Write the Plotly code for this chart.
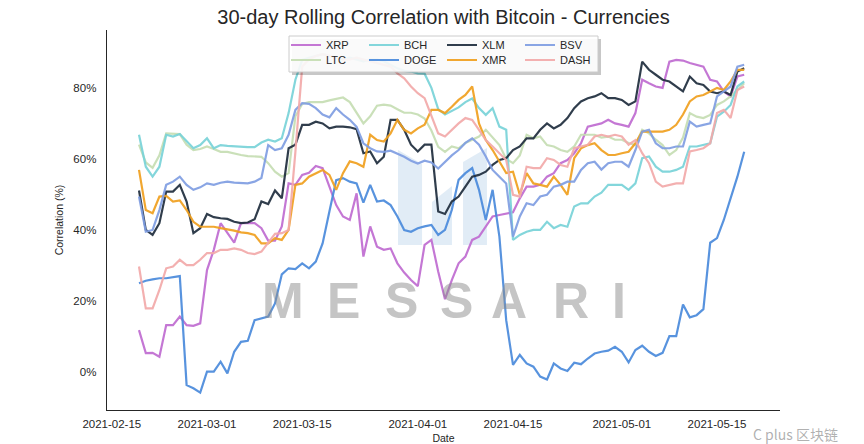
import pandas as pd
import plotly.graph_objects as go

dates = pd.date_range("2021-02-19", periods=90, freq="D")

XRP = [11.8, 5.3, 5.4, 4.3, 13.2, 13.2, 15.6, 13.2, 13.0, 13.7,
       28.7, 34.4, 41.9, 39.1, 36.4, 41.9, 41.9, 41.9, 40.5, 37.0,
       37.0, 41.0, 53.1, 52.7, 55.5, 56.1, 58.0, 57.4, 52.2, 47.0,
       43.8, 42.8, 50.3, 32.5, 41.0, 35.3, 34.4, 34.8, 30.6, 28.0,
       25.9, 24.2, 35.8, 37.2, 28.3, 20.5, 25.9, 30.6, 32.5, 37.2,
       38.1, 40.9, 43.8, 44.2, 44.5, 45.0, 48.9, 52.2, 52.2, 52.7,
       55.0, 56.0, 58.8, 59.7, 61.6, 64.4, 69.1, 69.6, 70.0, 71.0,
       70.0, 69.6, 69.1, 72.9, 82.3, 81.3, 80.4, 80.0, 87.4, 87.9,
       87.7, 87.0, 86.5, 86.0, 82.3, 81.8, 79.0, 77.6, 83.2, 83.7]

LTC = [64.0, 59.0, 57.5, 61.0, 67.2, 67.2, 67.0, 64.0, 62.5, 62.8,
       63.5, 62.8, 62.0, 62.0, 61.5, 61.1, 60.8, 60.6, 60.6, 58.8,
       56.4, 55.0, 56.0, 72.0, 75.5, 76.0, 76.0, 76.0, 76.5, 76.8,
       77.3, 76.0, 73.0, 70.0, 72.0, 75.0, 75.3, 75.0, 74.0, 73.0,
       73.0, 72.5, 71.4, 68.0, 63.4, 62.0, 63.5, 63.0, 64.5, 65.3,
       66.3, 68.2, 66.0, 63.9, 60.0, 58.8, 61.0, 66.8, 65.8, 66.3,
       63.9, 63.5, 62.5, 62.0, 63.5, 66.8, 66.8, 66.8, 66.0, 66.3,
       65.4, 65.4, 64.5, 63.9, 68.2, 67.2, 65.4, 63.9, 61.1, 62.5,
       66.0, 72.9, 71.9, 71.5, 72.4, 75.2, 76.2, 77.6, 79.4, 81.3]

BCH = [66.8, 57.8, 55.0, 57.8, 66.8, 66.3, 67.0, 64.9, 63.0, 63.9,
       65.8, 63.0, 63.9, 63.7, 63.5, 63.3, 63.3, 63.3, 64.6, 65.4,
       64.9, 65.8, 72.9, 82.3, 87.9, 88.5, 89.0, 89.5, 89.0, 88.5,
       88.0, 88.5, 88.0, 87.5, 88.0, 88.0, 87.5, 86.5, 85.5, 84.8,
       84.6, 84.1, 84.0, 80.0, 74.0, 72.5, 73.5, 74.5, 76.0, 77.0,
       74.3, 72.4, 74.3, 69.1, 68.2, 37.2, 38.6, 39.5, 40.0, 40.0,
       42.3, 40.5, 41.4, 40.9, 46.6, 47.5, 47.5, 49.4, 50.5, 52.7,
       52.7, 52.7, 51.3, 53.1, 60.2, 60.7, 57.8, 56.4, 56.4, 56.9,
       57.8, 63.5, 63.5, 64.0, 64.4, 71.9, 73.3, 75.2, 80.4, 81.8]

DOGE = [25.0, 25.7, 26.1, 26.4, 26.4, 26.7, 27.0, -3.7, -4.6, -5.8,
        0.1, 0.1, 2.9, -0.4, 5.7, 8.5, 8.8, 14.6, 15.1, 15.6,
        19.3, 27.5, 29.2, 29.0, 30.6, 29.2, 31.1, 36.2, 45.2, 54.0,
        54.6, 53.6, 53.1, 47.7, 52.7, 48.0, 48.3, 47.0, 43.8, 40.0,
        39.5, 40.5, 41.0, 41.4, 38.6, 40.0, 45.6, 54.1, 56.0, 57.4,
        51.3, 42.8, 51.3, 38.1, 14.6, 2.0, 4.8, 2.4, 1.5, -1.3,
        -2.1, 2.4, 1.0, 0.3, 2.6, 2.2, 3.8, 5.2, 5.7, 6.0,
        7.1, 5.7, 2.7, 6.2, 7.4, 5.7, 4.5, 5.4, 10.1, 10.1,
        19.0, 15.4, 16.0, 17.7, 36.4, 37.7, 42.8, 49.0, 55.0, 62.0]

XLM = [51.1, 40.0, 38.6, 41.9, 50.8, 50.8, 52.7, 48.0, 39.1, 40.5,
       44.5, 43.6, 43.3, 43.1, 42.3, 41.9, 42.1, 43.0, 48.0, 47.3,
       51.1, 48.9, 63.0, 64.0, 69.6, 69.6, 70.5, 70.0, 68.6, 69.1,
       69.1, 68.9, 68.4, 61.6, 62.1, 58.8, 60.6, 71.0, 71.0, 68.2,
       64.0, 62.1, 64.0, 64.0, 45.2, 44.5, 48.0, 49.4, 52.2, 55.0,
       55.5, 56.4, 58.3, 59.7, 60.2, 62.5, 63.5, 65.8, 65.8, 68.2,
       70.0, 68.6, 69.6, 71.5, 74.3, 76.2, 77.1, 77.6, 78.5, 77.1,
       77.1, 76.6, 75.2, 76.2, 87.4, 85.1, 83.7, 82.3, 81.8, 80.4,
       79.0, 83.2, 81.3, 80.8, 79.0, 78.5, 79.0, 78.0, 84.6, 85.5]

XMR = [56.9, 45.6, 44.7, 49.4, 49.6, 48.0, 48.3, 45.6, 42.3, 40.9,
       40.9, 40.9, 40.5, 40.2, 39.8, 39.3, 39.1, 38.6, 36.2, 36.2,
       37.7, 37.2, 40.0, 52.7, 53.1, 55.0, 56.0, 56.9, 55.5, 51.3,
       56.0, 59.3, 58.8, 57.8, 66.8, 65.3, 64.9, 67.2, 71.0, 68.2,
       67.2, 68.6, 69.6, 73.8, 73.8, 72.9, 74.7, 76.6, 78.0, 80.4,
       70.0, 65.3, 62.5, 59.3, 56.0, 56.4, 49.9, 56.0, 53.1, 52.7,
       52.2, 55.0, 52.7, 49.9, 60.2, 63.0, 63.9, 64.4, 62.5, 61.1,
       61.1, 61.6, 62.0, 64.4, 67.7, 67.7, 67.7, 67.7, 68.2, 69.6,
       72.5, 76.2, 77.6, 78.0, 79.0, 80.0, 79.4, 81.8, 85.1, 85.1]

BSV = [49.4, 39.5, 40.0, 45.6, 52.7, 53.6, 55.0, 52.7, 51.3, 52.0,
       53.1, 52.7, 53.3, 53.6, 53.3, 53.1, 53.1, 53.6, 54.6, 63.9,
       62.5, 63.0, 66.8, 73.8, 75.7, 75.5, 74.3, 72.5, 71.7, 74.3,
       72.5, 71.0, 69.0, 64.4, 63.0, 62.1, 62.0, 62.3, 61.5, 60.6,
       59.5, 58.7, 59.5, 59.0, 57.3, 59.2, 61.0, 62.5, 64.5, 65.8,
       64.0, 60.7, 56.9, 55.0, 53.1, 38.1, 43.8, 47.5, 47.0, 49.4,
       49.9, 52.2, 52.7, 53.6, 53.6, 56.9, 58.8, 59.2, 57.0, 58.8,
       59.2, 59.2, 57.8, 62.5, 67.7, 68.2, 64.4, 63.0, 63.0, 63.5,
       63.5, 70.5, 69.1, 69.6, 70.0, 77.6, 79.0, 80.4, 86.0, 86.5]

DASH = [29.7, 17.9, 17.9, 23.1, 29.2, 29.7, 31.6, 30.1, 30.1, 31.6,
        33.5, 33.5, 34.4, 34.4, 34.8, 34.4, 33.5, 33.2, 33.9, 36.3,
        38.9, 39.1, 40.0, 62.0, 86.0, 88.0, 89.0, 89.5, 89.0, 88.5,
        88.0, 88.0, 88.5, 88.0, 87.5, 87.0, 86.5, 86.0, 84.1, 82.7,
        80.4, 78.5, 77.1, 71.9, 67.2, 66.3, 68.2, 70.0, 71.5, 71.0,
        68.2, 65.3, 63.5, 61.6, 59.7, 49.9, 49.4, 57.8, 57.4, 57.4,
        60.2, 59.7, 58.3, 57.8, 63.0, 63.5, 64.0, 66.3, 66.8, 66.3,
        66.8, 66.3, 64.0, 65.3, 61.6, 58.8, 53.6, 52.2, 52.7, 53.1,
        53.1, 62.1, 62.5, 63.0, 64.4, 72.9, 73.8, 71.5, 79.4, 80.4]

names = ["XRP", "LTC", "BCH", "DOGE", "XLM", "XMR", "BSV", "DASH"]
series = [XRP, LTC, BCH, DOGE, XLM, XMR, BSV, DASH]
colors = ["#BF6BD0", "#C5DDB3", "#78D3D8", "#4A8ADB",
          "#1E2D3D", "#F0A01E", "#7F9DE2", "#F2A9A9"]
legend_row = ["legend", "legend2", "legend", "legend2",
              "legend", "legend2", "legend", "legend2"]

y_ticks = [0, 20, 40, 60, 80]
x_ticks = ["2021-02-15", "2021-03-01", "2021-03-15", "2021-04-01",
           "2021-04-15", "2021-05-01", "2021-05-15"]

# geometry (pixels of the 864x444 canvas)
W, H = 864, 444
L, R, T, B = 107, 84, 30, 34
PW, PH = W - L - R, H - T - B
px_per_day = 6.8
x_start = dates[0] - pd.Timedelta(days=(139 - L) / px_per_day)
x_end = x_start + pd.Timedelta(days=PW / px_per_day)


def px(x):
    return (x - L) / PW


def py(y):
    return (H - B - y) / PH


fig = go.Figure()
for n, s, c, lg in zip(names, series, colors, legend_row):
    fig.add_trace(go.Scatter(x=dates, y=s, name=n, mode="lines",
                             line=dict(color=c, width=2.2), opacity=0.92,
                             legend=lg))

font = "Liberation Sans, Arial, sans-serif"
dark = "#262626"

shapes = []
# faint logo shapes behind the lines
logo = [[(398, 150), (422, 164), (422, 245), (398, 245)],
        [(432, 202), (452, 186), (452, 245), (432, 245)],
        [(463, 162), (487, 148), (487, 245), (463, 245)]]
for poly in logo:
    path = "M " + " L ".join(f"{px(a):.4f},{py(b):.4f}" for a, b in poly) + " Z"
    shapes.append(dict(type="path", xref="paper", yref="paper", path=path,
                       fillcolor="rgba(170,200,230,0.35)", line=dict(width=0),
                       layer="below"))
# legend shadow + box
shapes.append(dict(type="rect", xref="paper", yref="paper",
                   x0=px(292), x1=px(601), y0=py(75), y1=py(39),
                   fillcolor="rgba(0,0,0,0.22)", line=dict(width=0), layer="above"))
shapes.append(dict(type="rect", xref="paper", yref="paper",
                   x0=px(289), x1=px(598), y0=py(72), y1=py(36),
                   fillcolor="rgba(255,255,255,0.9)",
                   line=dict(color="#cccccc", width=1), layer="above"))

annotations = []
letters = ["M", "E", "S", "S", "A", "R", "I"]
letter_x = [283, 343, 401, 456, 509, 571, 619]
for ch, lx in zip(letters, letter_x):
    annotations.append(dict(text=f"<b>{ch}</b>", x=px(lx), y=py(301), xref="paper",
                            yref="paper", showarrow=False, xanchor="center",
                            yanchor="middle",
                            font=dict(family=font, size=50,
                                      color="rgba(140,140,140,0.5)")))
annotations.append(dict(text="C plus 区块链", x=px(840), y=py(434), xref="paper",
                        yref="paper", showarrow=False, xanchor="right",
                        yanchor="middle",
                        font=dict(family="Noto Sans CJK SC", size=14,
                                  color="rgba(110,110,110,0.55)")))

legend_common = dict(orientation="h", xref="paper", yref="container",
                     xanchor="left", yanchor="middle",
                     bgcolor="rgba(0,0,0,0)", borderwidth=0,
                     font=dict(family=font, size=11, color=dark),
                     entrywidthmode="pixels", entrywidth=33,
                     itemclick=False, itemdoubleclick=False)

fig.update_layout(
    width=W, height=H,
    margin=dict(l=L, r=R, t=T, b=B, pad=0, autoexpand=False),
    paper_bgcolor="white", plot_bgcolor="white",
    title=dict(text="30-day Rolling Correlation with Bitcoin - Currencies",
               x=0.5, xref="paper", xanchor="center", y=1 - 17 / H,
               yanchor="middle", font=dict(family=font, size=20, color=dark)),
    font=dict(family=font, color=dark),
    showlegend=True,
    hovermode=False,
    legend=dict(x=px(286), y=1 - 45 / H, **legend_common),
    legend2=dict(x=px(286), y=1 - 60 / H, **legend_common),
    shapes=shapes,
    annotations=annotations,
    xaxis=dict(range=[x_start, x_end], tickvals=x_ticks, ticktext=x_ticks,
               automargin=False,
               showgrid=False, zeroline=False, showline=True,
               linecolor=dark, linewidth=1.3, ticks="",
               ticklabelstandoff=3,
               tickfont=dict(family=font, size=11.5, color=dark),
               title=dict(text="Date", standoff=7,
                          font=dict(family=font, size=10.5, color=dark))),
    yaxis=dict(range=[-10.7, 96.3], tickvals=y_ticks,
               ticktext=[f"{v}%" for v in y_ticks],
               automargin=False,
               showgrid=False, zeroline=False, showline=True,
               linecolor=dark, linewidth=1.3, ticks="",
               ticklabelstandoff=7,
               tickfont=dict(family=font, size=11.5, color=dark),
               title=dict(text="Correlation (%)", standoff=7,
                          font=dict(family=font, size=10.5, color=dark))),
)

fig.write_html("out.html",
               config={"displayModeBar": False, "staticPlot": True},
               post_script="document.body.style.margin='0px';"
                           "document.body.style.overflow='hidden';")
